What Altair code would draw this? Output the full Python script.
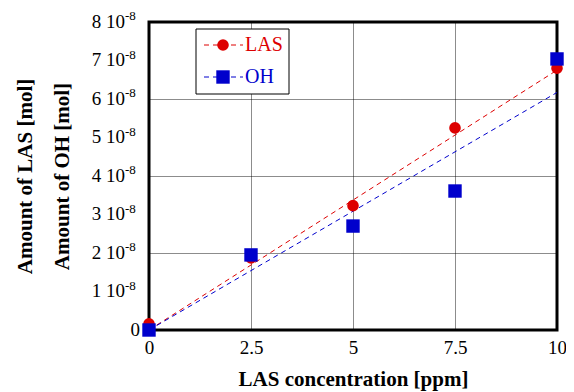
import altair as alt
import pandas as pd

# ---- data ----
conc = [0, 2.5, 5, 7.5, 10]
las = [0.16e-8, 1.87e-8, 3.23e-8, 5.25e-8, 6.80e-8]
oh = [0.0, 1.95e-8, 2.70e-8, 3.61e-8, 7.04e-8]
fit_x = [0, 10]
fit_las = [0.0, 6.75e-8]
fit_oh = [0.0, 6.17e-8]
x_ticks = [0, 2.5, 5, 7.5, 10]
y_ticks = [0, 1e-8, 2e-8, 3e-8, 4e-8, 5e-8, 6e-8, 7e-8, 8e-8]
y_main = ["0", "1 10", "2 10", "3 10", "4 10", "5 10", "6 10", "7 10", "8 10"]
y_sup = ["", "-8", "-8", "-8", "-8", "-8", "-8", "-8", "-8"]
series = ["LAS", "OH"]
colors = ["#dd0000", "#0000cc"]
shapes = ["circle", "square"]
sizes = [135, 180]

FONT = "Liberation Serif"
W, H = 408, 308

x_enc = alt.X(
    "x:Q",
    scale=alt.Scale(domain=[0, 10], nice=False),
    axis=alt.Axis(
        values=x_ticks, format=".1~f", title="LAS concentration [ppm]",
        grid=True, gridDash=[1, 1], gridColor="black", gridOpacity=0.9,
        domain=False, ticks=False, labelFlush=False,
        labelFont=FONT, labelFontSize=19, labelColor="black", labelPadding=8,
        titleFont=FONT, titleFontSize=21, titleFontWeight="bold", titleColor="black",
        titleY=55, titleBaseline="alphabetic",
    ),
)
y_enc = alt.Y(
    "y:Q",
    scale=alt.Scale(domain=[0, 8e-8], nice=False),
    axis=alt.Axis(
        values=y_ticks, labels=False, ticks=False, domain=False,
        grid=True, gridDash=[1, 1], gridColor="black", gridOpacity=0.9,
        title=["Amount of LAS [mol]", "Amount of OH [mol]"],
        titleFont=FONT, titleFontSize=21, titleFontWeight="bold", titleColor="black",
        titleLineHeight=37, titleX=-118, titleBaseline="alphabetic",
    ),
)

pts_las = pd.DataFrame({"x": conc, "y": las})
pts_oh = pd.DataFrame({"x": conc, "y": oh})
line_las = pd.DataFrame({"x": fit_x, "y": fit_las})
line_oh = pd.DataFrame({"x": fit_x, "y": fit_oh})
ticks_df = pd.DataFrame({"y": y_ticks, "main": y_main, "sup": y_sup})

base_line_las = alt.Chart(line_las).mark_line(
    color=colors[0], strokeDash=[5, 4], strokeWidth=1
).encode(x=x_enc, y=y_enc)
base_line_oh = alt.Chart(line_oh).mark_line(
    color=colors[1], strokeDash=[5, 4], strokeWidth=1
).encode(x="x:Q", y="y:Q")
p_las = alt.Chart(pts_las).mark_point(
    shape=shapes[0], filled=True, color=colors[0], size=sizes[0], opacity=1
).encode(x="x:Q", y="y:Q")
p_oh = alt.Chart(pts_oh).mark_point(
    shape=shapes[1], filled=True, color=colors[1], size=sizes[1], opacity=1
).encode(x="x:Q", y="y:Q")

lab_main = alt.Chart(ticks_df).mark_text(
    align="right", baseline="alphabetic", dy=5.5, font=FONT, fontSize=19, color="black"
).encode(
    x=alt.value(-24), y="y:Q", text="main:N"
).transform_filter("datum.sup != ''")
lab_zero = alt.Chart(ticks_df).mark_text(
    align="right", baseline="alphabetic", dy=5.5, font=FONT, fontSize=19, color="black"
).encode(
    x=alt.value(-9), y="y:Q", text="main:N"
).transform_filter("datum.sup == ''")
lab_sup = alt.Chart(ticks_df).mark_text(
    align="left", baseline="alphabetic", dy=-2, font=FONT, fontSize=13, color="black"
).encode(
    x=alt.value(-24), y="y:Q", text="sup:N"
).transform_filter("datum.sup != ''")

# legend box
leg_box = alt.Chart(pd.DataFrame({"a": [0]})).mark_rect(
    fill="white", stroke="black", strokeWidth=1
).encode(x=alt.value(47), x2=alt.value(140), y=alt.value(7), y2=alt.value(72))

legend_layers = [leg_box]
row_y = [23, 55]
for i, name in enumerate(series):
    d = pd.DataFrame({"label": [name]})
    legend_layers.append(
        alt.Chart(d).mark_rule(color=colors[i], strokeDash=[5, 4], strokeWidth=1).encode(
            x=alt.value(55), x2=alt.value(94), y=alt.value(row_y[i])
        )
    )
    legend_layers.append(
        alt.Chart(d).mark_point(
            shape=shapes[i], filled=True, color=colors[i], size=sizes[i], opacity=1
        ).encode(x=alt.value(74), y=alt.value(row_y[i]))
    )
    legend_layers.append(
        alt.Chart(d).mark_text(
            align="left", baseline="middle", font=FONT, fontSize=20, color=colors[i]
        ).encode(x=alt.value(96), y=alt.value(row_y[i]), text="label:N")
    )

chart = alt.layer(
    base_line_las, base_line_oh, p_las, p_oh, lab_main, lab_zero, lab_sup, *legend_layers
).properties(
    width=W, height=H,
    autosize=alt.AutoSizeParams(type="none"),
    padding={"left": 141, "top": 14, "right": 9, "bottom": 62},
).configure_view(
    stroke="black", strokeWidth=3
)

chart.save("out.html", embed_options={"renderer": "svg", "actions": False})
